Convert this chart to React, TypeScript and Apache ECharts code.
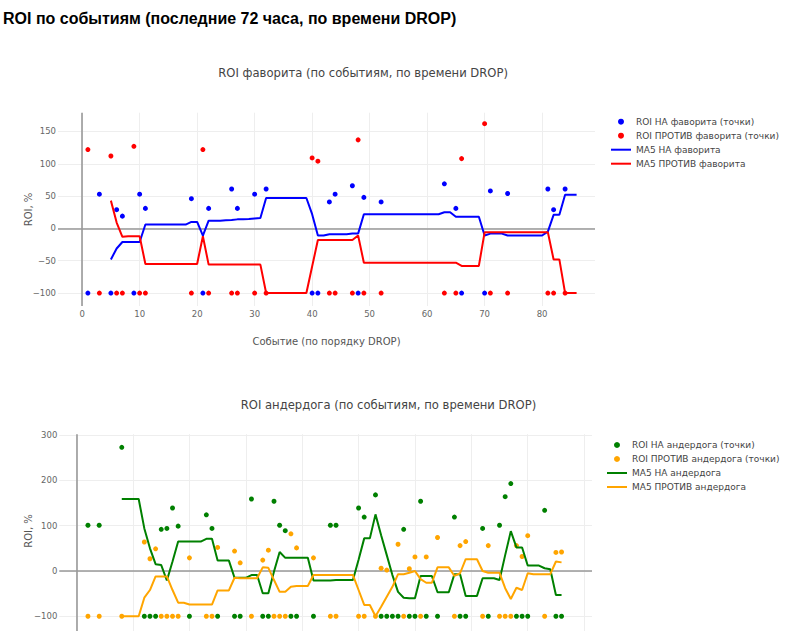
import React, { useEffect, useRef } from "react";
import * as echarts from "echarts";

// ---------- Favourite chart data ----------
const favEvents = [1, 3, 5, 6, 7, 9, 10, 11, 19, 21, 22, 26, 27, 30, 32, 40, 41, 43, 44, 47, 48, 49, 52, 63, 65, 66, 70, 71, 74, 81, 82, 84];
const favForPts = [-100, 53, -100, 29, 19, -100, 53, 31, 46, -100, 31, 61, 31, 53, 61, -100, -100, 41, 53, 66, -100, 48, 41, 69, 31, -100, -100, 58, 54, 61, 29, 61];
const favAgainstPts = [122, -100, 112, -100, -100, 127, -100, -100, -100, 122, -100, -100, -100, -100, -100, 109, 104, -100, -100, -100, 137, -100, -100, -100, -100, 108, 162, -100, -100, -100, -100, -100];
const favMaStart = 5;
const favMaFor = [
  -48, -31, -21, -21, -21, -21,
  6, 6, 6, 6, 6, 6, 6, 6,
  10, 10, -11,
  12, 12, 12, 12.5, 13, 14, 14, 14.5, 15.5, 16,
  47, 47, 47, 47, 47, 47, 47, 47,
  22, -11, -11,
  -9, -9, -9, -9,
  -8, -8,
  22, 22, 22, 22, 22, 22, 22, 22, 22, 22, 22, 22, 22, 22,
  25, 25,
  18, 18, 18, 18, 18,
  -11,
  -8, -8, -8,
  -11, -11, -11, -11, -11, -11, -11,
  -5,
  21, 21,
  52, 52, 52,
];
const favMaAgainst = [
  43, 9, -13, -12, -12, -12,
  -55, -55, -55, -55, -55, -55, -55, -55, -55, -55,
  -12,
  -56, -56, -56, -56, -56, -56, -56, -56, -56, -56,
  -100, -100, -100, -100, -100, -100, -100, -100,
  -59,
  -18, -18, -18, -18, -18, -18, -18,
  -11,
  -53, -53, -53, -53, -53, -53, -53, -53, -53, -53, -53, -53, -53, -53, -53, -53, -53,
  -58, -58, -58, -58,
  -6, -6, -6, -6, -6, -6, -6, -6, -6, -6, -6, -6,
  -48, -48,
  -100, -100, -100,
];

// ---------- Underdog chart data ----------
const dogEvents = [2, 4, 8, 12, 13, 14, 15, 16, 17, 18, 20, 23, 24, 25, 28, 29, 31, 33, 34, 35, 36, 37, 38, 39, 42, 45, 46, 50, 51, 53, 54, 55, 56, 57, 58, 59, 60, 61, 62, 64, 67, 68, 69, 72, 73, 75, 76, 77, 78, 79, 80, 83, 85, 86];
const dogForPts = [101, 101, 273, -100, -100, -100, 92, 94, 139, 99, -100, 124, 94, -100, -100, -100, 159, -100, -100, 154, 101, 89, -100, -100, -100, 101, 101, 139, 119, 168, -100, -100, -100, -100, 92, -100, -100, 154, -100, -100, 119, -100, -100, 94, -100, 101, 164, 193, -100, -100, -100, 134, -100, -100];
const dogAgainstPts = [-100, -100, -100, 64, 27, 49, -100, -100, -100, -100, 29, -100, -100, 52, 44, 18, -100, 24, 46, -100, -100, -100, 82, 51, 29, -100, -100, -100, -100, -100, 6, 2, null, 59, -100, 5, 31, -100, 31, 74, -100, 56, 65, -100, 56, -100, -100, -100, 56, 32, 78, -100, 41, 42];
const dogMaStart = 8;
const dogMaFor = [
  159, 159, 159, 159,
  94, 50, 15, 13, -21, 21,
  65, 65, 65, 65, 65,
  71, 71,
  23, 23, 23,
  -15, -15, -15,
  -9, -9,
  -49, -49,
  -1, 42,
  29, 29, 29, 29, 29,
  -21, -21, -21, -21,
  -20, -20, -20, -20,
  25, 72, 72, 125, 79, 35, -9, -46, -59, -60, -60,
  -11, -11, -11,
  -47, -47, -47,
  -7, -7,
  -55, -55, -55,
  -16, -16, -16,
  -20, 35, 88, 52, 52,
  12, 12, 12,
  6, 4,
  -53, -53,
];
const dogMaAgainst = [
  -100, -100, -100, -100,
  -59, -42,
  -12, -12, -12,
  -42,
  -70, -70,
  -74, -74, -74, -74, -74,
  -43, -43, -43,
  -15,
  -16, -16, -16, -16,
  8, 7, -20,
  -46, -46,
  -35,
  -33, -33, -33,
  -9, -9, -9, -9, -9, -9, -9, -9,
  -42,
  -75, -75,
  -100, -79, -57, -35, -7, -7, -4, 0, -18,
  -26, -26,
  8, 8, 8,
  -11, -5,
  26, 26, 26,
  0,
  -4, -4, -4,
  -38, -62, -37, -42, -5,
  -7, -7, -7, -7,
  21, 19,
];

const FONT = "'DejaVu Sans', Verdana, sans-serif";
const BLUE = "#0000ff";
const RED = "#ff0000";
const GREEN = "#008000";
const ORANGE = "#ffa500";

const pts = (xs: number[], ys: (number | null)[]) =>
  xs.map((x, i) => [x, ys[i]]).filter((p) => p[1] !== null);
const ma = (start: number, ys: number[]) => ys.map((v, i) => [start + i, v]);

const tickFmt = (v: number) => (v < 0 ? "\u2212" + Math.abs(v) : String(v));

const zeroMark = {
  silent: true,
  symbol: ["none", "none"],
  z: 1,
  label: { show: false },
  lineStyle: { color: "#999", width: 1.6, type: "solid" },
  emphasis: { disabled: true },
  data: [{ yAxis: 0 }, { xAxis: 0 }],
};

const axisLabelBase = {
  fontSize: 8.5,
  color: "#666",
  fontFamily: FONT,
  showMinLabel: false,
  showMaxLabel: false,
  formatter: tickFmt,
};

const splitLineBase = {
  show: true,
  showMinLine: false,
  showMaxLine: false,
  lineStyle: { color: "#eeeeee", width: 1 },
};

const legendBase = {
  orient: "vertical",
  itemWidth: 20,
  itemHeight: 6,
  itemGap: 4,
  padding: 0,
  selectedMode: false,
  textStyle: { fontSize: 9, color: "#444", fontFamily: FONT, lineHeight: 10 },
};

const lineLegendItem = (name: string) => ({ name, itemStyle: { opacity: 0 } });

const yNameText = (y: number) => ({
  type: "text",
  x: 28.5,
  y,
  rotation: Math.PI / 2,
  style: {
    text: "ROI, %",
    font: "10px " + FONT,
    fill: "#555",
    textAlign: "center",
    textVerticalAlign: "middle",
  },
});

const option = {
  animation: false,
  backgroundColor: "#ffffff",
  graphic: [
    {
      type: "text",
      x: 3,
      y: 18,
      style: {
        text: "ROI по событиям (последние 72 часа, по времени DROP)",
        font: "bold 16px 'Liberation Sans', Arial, sans-serif",
        fill: "#000",
        textAlign: "left",
        textVerticalAlign: "middle",
      },
    },
    {
      type: "text",
      x: 218.3,
      y: 73.3,
      style: {
        text: "ROI фаворита (по событиям, по времени DROP)",
        font: "11.6px " + FONT,
        fill: "#444",
        textAlign: "left",
        textVerticalAlign: "middle",
      },
    },
    {
      type: "text",
      x: 240.7,
      y: 405,
      style: {
        text: "ROI андердога (по событиям, по времени DROP)",
        font: "11.6px " + FONT,
        fill: "#444",
        textAlign: "left",
        textVerticalAlign: "middle",
      },
    },
    yNameText(209.5),
    yNameText(531),
  ],
  legend: [
    {
      ...legendBase,
      left: 610,
      top: 116.7,
      data: [
        "ROI НА фаворита (точки)",
        "ROI ПРОТИВ фаворита (точки)",
        lineLegendItem("MA5 НА фаворита"),
        lineLegendItem("MA5 ПРОТИВ фаворита"),
      ],
    },
    {
      ...legendBase,
      left: 606,
      top: 440,
      data: [
        "ROI НА андердога (точки)",
        "ROI ПРОТИВ андердога (точки)",
        lineLegendItem("MA5 НА андердога"),
        lineLegendItem("MA5 ПРОТИВ андердога"),
      ],
    },
  ],
  grid: [
    { left: 58, top: 112.7, width: 537, height: 193.3 },
    { left: 59.3, top: 434.2, width: 532.7, height: 196.8 },
  ],
  xAxis: [
    {
      type: "value",
      gridIndex: 0,
      min: -4.2,
      max: 89.2,
      minInterval: 10,
      maxInterval: 10,
      axisLine: { show: false },
      axisTick: { show: false },
      axisLabel: { ...axisLabelBase, margin: 3 },
      splitLine: splitLineBase,
      name: "Событие (по порядку DROP)",
      nameLocation: "middle",
      nameGap: 30,
      nameTextStyle: { fontSize: 10, color: "#555", fontFamily: FONT },
    },
    {
      type: "value",
      gridIndex: 1,
      min: -3.08,
      max: 91.4,
      minInterval: 10,
      maxInterval: 10,
      axisLine: { show: false },
      axisTick: { show: false },
      axisLabel: { show: false },
      splitLine: splitLineBase,
    },
  ],
  yAxis: [
    {
      type: "value",
      gridIndex: 0,
      min: -120,
      max: 179,
      minInterval: 50,
      maxInterval: 50,
      axisLine: { show: false },
      axisTick: { show: false },
      axisLabel: { ...axisLabelBase, margin: 2 },
      splitLine: splitLineBase,
    },
    {
      type: "value",
      gridIndex: 1,
      min: -132.5,
      max: 302,
      minInterval: 100,
      maxInterval: 100,
      axisLine: { show: false },
      axisTick: { show: false },
      axisLabel: { ...axisLabelBase, margin: 2 },
      splitLine: splitLineBase,
    },
  ],
  series: [
    {
      name: "ROI НА фаворита (точки)",
      type: "scatter",
      xAxisIndex: 0,
      yAxisIndex: 0,
      symbol: "circle",
      symbolSize: 5,
      itemStyle: { color: BLUE, opacity: 1 },
      data: pts(favEvents, favForPts),
      markLine: zeroMark,
    },
    {
      name: "ROI ПРОТИВ фаворита (точки)",
      type: "scatter",
      xAxisIndex: 0,
      yAxisIndex: 0,
      symbol: "circle",
      symbolSize: 5,
      itemStyle: { color: RED, opacity: 1 },
      data: pts(favEvents, favAgainstPts),
    },
    {
      name: "MA5 НА фаворита",
      type: "line",
      xAxisIndex: 0,
      yAxisIndex: 0,
      symbol: "none",
      showSymbol: false,
      itemStyle: { color: BLUE },
      lineStyle: { color: BLUE, width: 2 },
      data: ma(favMaStart, favMaFor),
    },
    {
      name: "MA5 ПРОТИВ фаворита",
      type: "line",
      xAxisIndex: 0,
      yAxisIndex: 0,
      symbol: "none",
      showSymbol: false,
      itemStyle: { color: RED },
      lineStyle: { color: RED, width: 2 },
      data: ma(favMaStart, favMaAgainst),
    },
    {
      name: "ROI НА андердога (точки)",
      type: "scatter",
      xAxisIndex: 1,
      yAxisIndex: 1,
      symbol: "circle",
      symbolSize: 5,
      itemStyle: { color: GREEN, opacity: 1 },
      data: pts(dogEvents, dogForPts),
      markLine: zeroMark,
    },
    {
      name: "ROI ПРОТИВ андердога (точки)",
      type: "scatter",
      xAxisIndex: 1,
      yAxisIndex: 1,
      symbol: "circle",
      symbolSize: 5,
      itemStyle: { color: ORANGE, opacity: 1 },
      data: pts(dogEvents, dogAgainstPts),
    },
    {
      name: "MA5 НА андердога",
      type: "line",
      xAxisIndex: 1,
      yAxisIndex: 1,
      symbol: "none",
      showSymbol: false,
      itemStyle: { color: GREEN },
      lineStyle: { color: GREEN, width: 2 },
      data: ma(dogMaStart, dogMaFor),
    },
    {
      name: "MA5 ПРОТИВ андердога",
      type: "line",
      xAxisIndex: 1,
      yAxisIndex: 1,
      symbol: "none",
      showSymbol: false,
      itemStyle: { color: ORANGE },
      lineStyle: { color: ORANGE, width: 2 },
      data: ma(dogMaStart, dogMaAgainst),
    },
  ],
};

export default function App() {
  const ref = useRef<HTMLDivElement>(null);
  useEffect(() => {
    if (!ref.current) return;
    const chart = echarts.init(ref.current, undefined, { renderer: "svg" });
    chart.setOption(option as any);
    return () => chart.dispose();
  }, []);
  return (
    <div
      ref={ref}
      style={{ position: "absolute", left: 0, top: 0, width: 800, height: 631 }}
    />
  );
}
